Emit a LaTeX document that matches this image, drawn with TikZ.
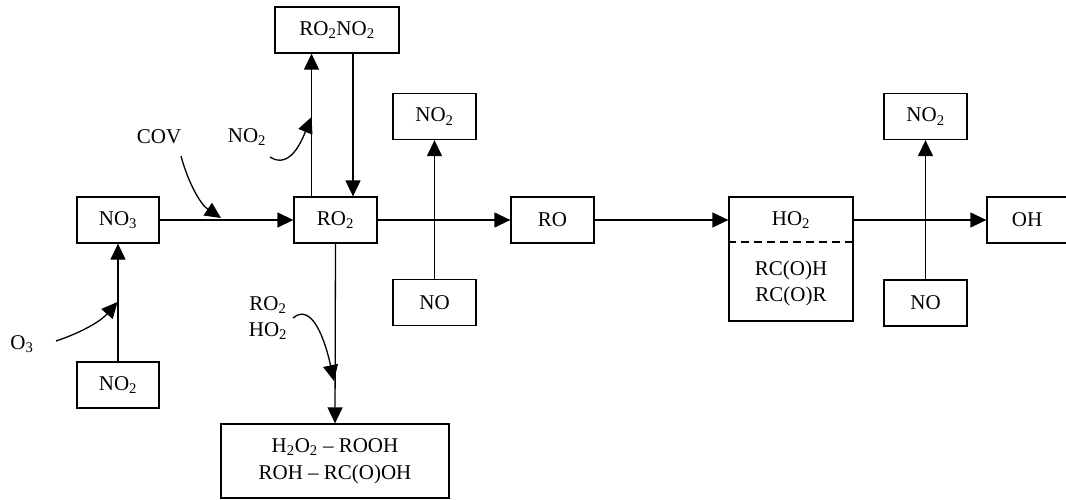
\documentclass[tikz,border=0pt]{standalone}
\usepackage{fontspec}
\setmainfont{Liberation Serif}
\usetikzlibrary{arrows.meta}
\newcommand{\ssb}[1]{\textsubscript{#1}}
\begin{document}
\begin{tikzpicture}[x=1pt,y=-1pt, line width=1.3pt,
  box/.style={draw, inner sep=0pt, minimum width=83pt, minimum height=46pt,
              font=\fontsize{21}{27}\selectfont, align=center},
  txt/.style={inner sep=0pt, font=\fontsize{21}{26}\selectfont, align=center},
  arr/.style={-{Triangle[length=16pt,width=15pt]}},
  ]
\useasboundingbox (0,0) rectangle (1066,499);

% boxes
\node[box, minimum width=82pt] (no3) at (118,220) {NO\ssb{3}};
\node[box, minimum width=82pt] (no2c) at (118,385) {NO\ssb{2}};
\node[box] (ro2) at (335.5,220) {RO\ssb{2}};
\node[box, minimum width=124pt] (ro2no2) at (337,30) {RO\ssb{2}NO\ssb{2}};
\node[box, minimum width=228pt, minimum height=74pt] (prod) at (335,461) {H\ssb{2}O\ssb{2} -- ROOH\\ROH -- RC(O)OH};
\node[box] (no2a) at (434.5,116.5) {NO\ssb{2}};
\node[box] (noa) at (434.5,302.5) {NO};
\node[box] (ro) at (552.5,220) {RO};
\node[box, minimum width=124pt, minimum height=124pt] (ho2) at (791,259) {};
\node[txt] (ho2t) at (791,220) {HO\ssb{2}};
\node[txt] (rco) at (791,283) {RC(O)H\\RC(O)R};
\node[box] (no2b) at (925.5,116.5) {NO\ssb{2}};
\node[box] (nob) at (925.5,303) {NO};
\node[box, minimum width=80pt] (oh) at (1027,220) {OH};

\draw[dash pattern=on 8pt off 5pt] (ho2.west |- 0,242) -- (ho2.east |- 0,242);

% labels
\node[txt] (cov) at (159,137) {COV};
\node[txt] (no2l) at (247,137) {NO\ssb{2}};
\node[txt] (rho) at (268,318) {RO\ssb{2}\\HO\ssb{2}};
\node[txt] (o3) at (22,344) {O\ssb{3}};

% straight connectors
\draw[arr] (no3.east) -- (ro2.west);
\draw[arr] (ro2.east) -- (ro.west);
\draw[arr] (ro.east) -- (ro.east -| ho2.west);
\draw[arr] (ho2.east |- oh.west) -- (oh.west);
\draw[arr] (no2c.north) -- (no3.south);
\draw[arr] (noa.north) -- (no2a.south);
\draw[arr] (nob.north) -- (no2b.south);
\draw[arr] (ro2.south) -- (prod.north);
\coordinate (up0) at (311.5,0);
\coordinate (dn0) at (353,0);
\draw[arr] (ro2.north -| up0) -- (ro2no2.south -| up0);
\draw[arr] (ro2no2.south -| dn0) -- (ro2.north -| dn0);

% curved connectors
\coordinate (covs) at (181,156);
\coordinate (cove) at (221,218);
\draw[arr] (covs) .. controls (188,182) and (200,204) .. (cove);
\coordinate (no2s) at (270,157);
\coordinate (no2e) at (311.5,117);
\draw[arr] (no2s) .. controls (290,170) and (302,140) .. (no2e);
\coordinate (rhos) at (293,318);
\coordinate (rhoe) at (334,381);
\draw[arr] (rhos) .. controls (312,302) and (325,340) .. (rhoe);
\coordinate (o3s) at (56,341);
\coordinate (o3e) at (117.5,302);
\draw[arr] (o3s) .. controls (80,333) and (100,322) .. (o3e);
\end{tikzpicture}
\end{document}
